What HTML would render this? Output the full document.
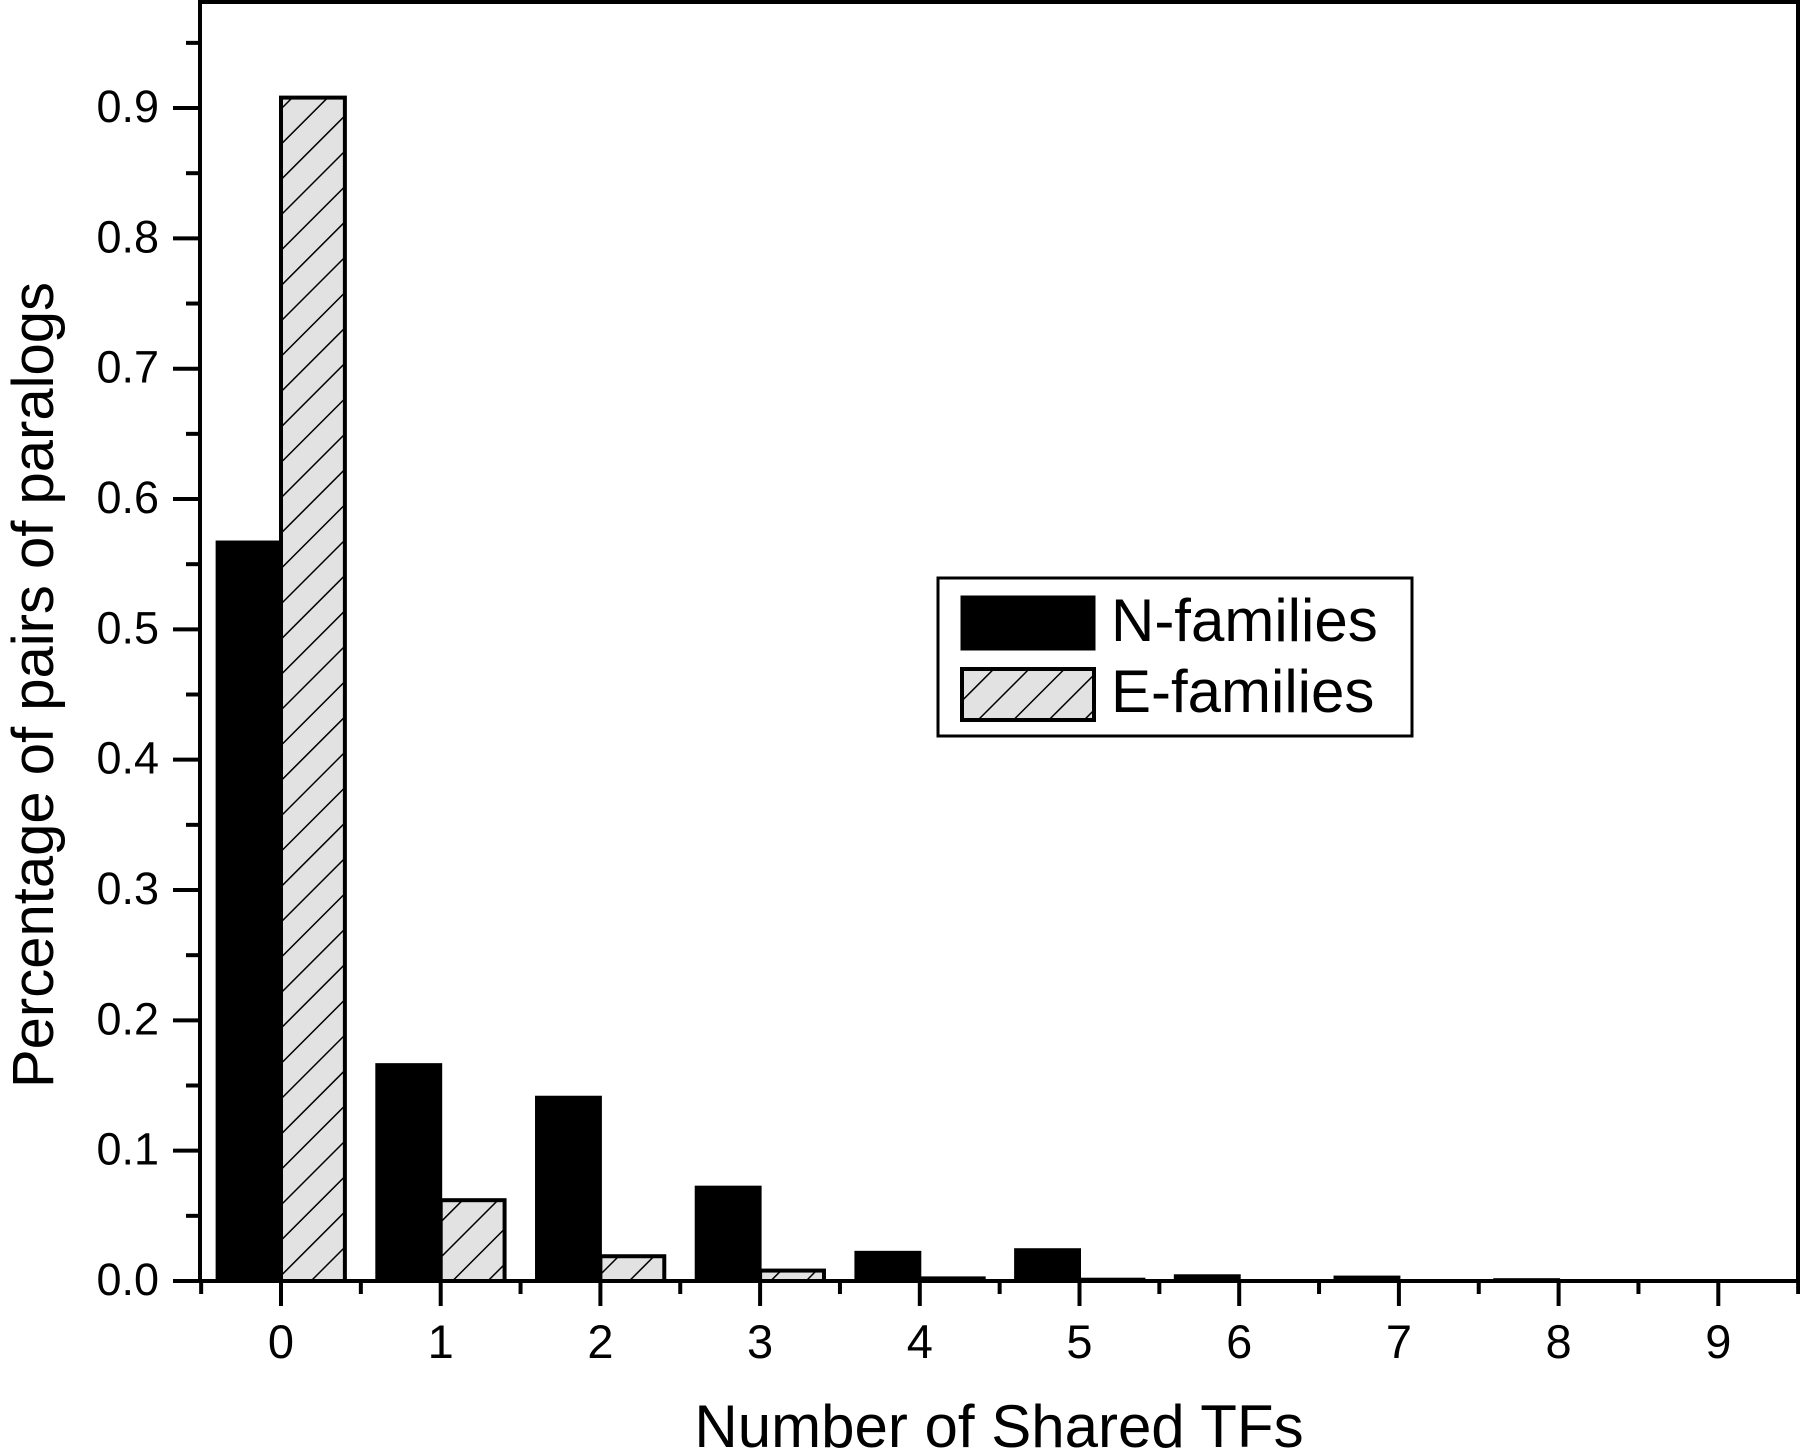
<!DOCTYPE html>
<html><head><meta charset="utf-8"><style>
html,body{margin:0;padding:0;background:#fff;}
svg{display:block;font-family:"Liberation Sans",Arial,sans-serif;}
</style></head><body>
<svg id="chart" width="1800" height="1453" viewBox="0 0 1800 1453">
<defs>
<pattern id="hatch" patternUnits="userSpaceOnUse" width="25" height="25" patternTransform="rotate(45)">
<rect width="25" height="25" fill="#e2e2e2"/>
<line x1="0" y1="0" x2="0" y2="25" stroke="#000" stroke-width="3"/>
</pattern>
</defs>
<g id="bars"></g>
<g id="axes"></g>
<g>
<rect x="938" y="578" width="474" height="158" fill="#fff" stroke="#000" stroke-width="3"/>
<rect x="962" y="597" width="132" height="52" fill="#000" stroke="#000" stroke-width="3"/>
<text x="1111" y="641" font-size="60">N-families</text>
<rect x="962" y="669" width="132" height="51" fill="url(#hatch)" stroke="#000" stroke-width="4"/>
<text x="1111" y="712" font-size="60">E-families</text>
</g>
<text x="999" y="1447" font-size="60" text-anchor="middle">Number of Shared TFs</text>
<text transform="translate(53,685) rotate(-90)" font-size="58" text-anchor="middle">Percentage of pairs of paralogs</text>
</svg>
<script>
const categories = [0,1,2,3,4,5,6,7,8,9];
const nFamilies = [0.567,0.166,0.141,0.072,0.022,0.024,0.004,0.003,0.001,0];
const eFamilies = [0.908,0.062,0.019,0.008,0.002,0.001,0,0,0,0];
const yTicks = [0.0,0.1,0.2,0.3,0.4,0.5,0.6,0.7,0.8,0.9];
const xTickLabels = ["0","1","2","3","4","5","6","7","8","9"];

const NS="http://www.w3.org/2000/svg";
const X0=281, XS=159.7, Y0=1281, YS=1303.3;
const xs=v=>X0+v*XS, ys=v=>Y0-v*YS;
const bars=document.getElementById('bars'), axes=document.getElementById('axes');
function mk(tag,attrs,parent){const e=document.createElementNS(NS,tag);for(const k in attrs)e.setAttribute(k,attrs[k]);parent.appendChild(e);return e;}
const bw=0.4*XS;
categories.forEach((c,i)=>{
  const hn=Math.max(ys(0)-ys(nFamilies[i]),0);
  const r1=mk('rect',{x:xs(c)-bw,y:ys(nFamilies[i]),width:bw,height:hn,fill:'#000',stroke:'#000','stroke-width':3},bars);
  
  
  const he=Math.max(ys(0)-ys(eFamilies[i]),0);
  const r2=mk('rect',{x:xs(c),y:ys(eFamilies[i]),width:bw,height:he,fill:'url(#hatch)',stroke:'#000','stroke-width':4},bars);
  
  
});
const fr=mk('rect',{x:200,y:2,width:1598,height:1279,fill:'none',stroke:'#000','stroke-width':4},axes);


for(let k=0;k<=19;k++){
  const v=k*0.05, y=ys(v);
  if(y<2)continue;
  const major=k%2===0;
  mk('line',{x1:200,x2:major?173:186,y1:y,y2:y,stroke:'#000','stroke-width':4},axes);
}
yTicks.forEach(t=>{
  const tx=mk('text',{x:159,y:ys(t)+14,'font-size':45,'text-anchor':'end'},axes);
  tx.textContent=t.toFixed(1);
  
  
});
for(let k=-1;k<=19;k++){
  const v=k*0.5, x=xs(v);
  const major=k%2===0;
  mk('line',{x1:x,x2:x,y1:1281,y2:major?1306:1294,stroke:'#000','stroke-width':4},axes);
}
categories.forEach((c,i)=>{
  const tx=mk('text',{x:xs(c),y:1358,'font-size':47,'text-anchor':'middle'},axes);
  tx.textContent=xTickLabels[i];
  
  
});
</script>
</body></html>
